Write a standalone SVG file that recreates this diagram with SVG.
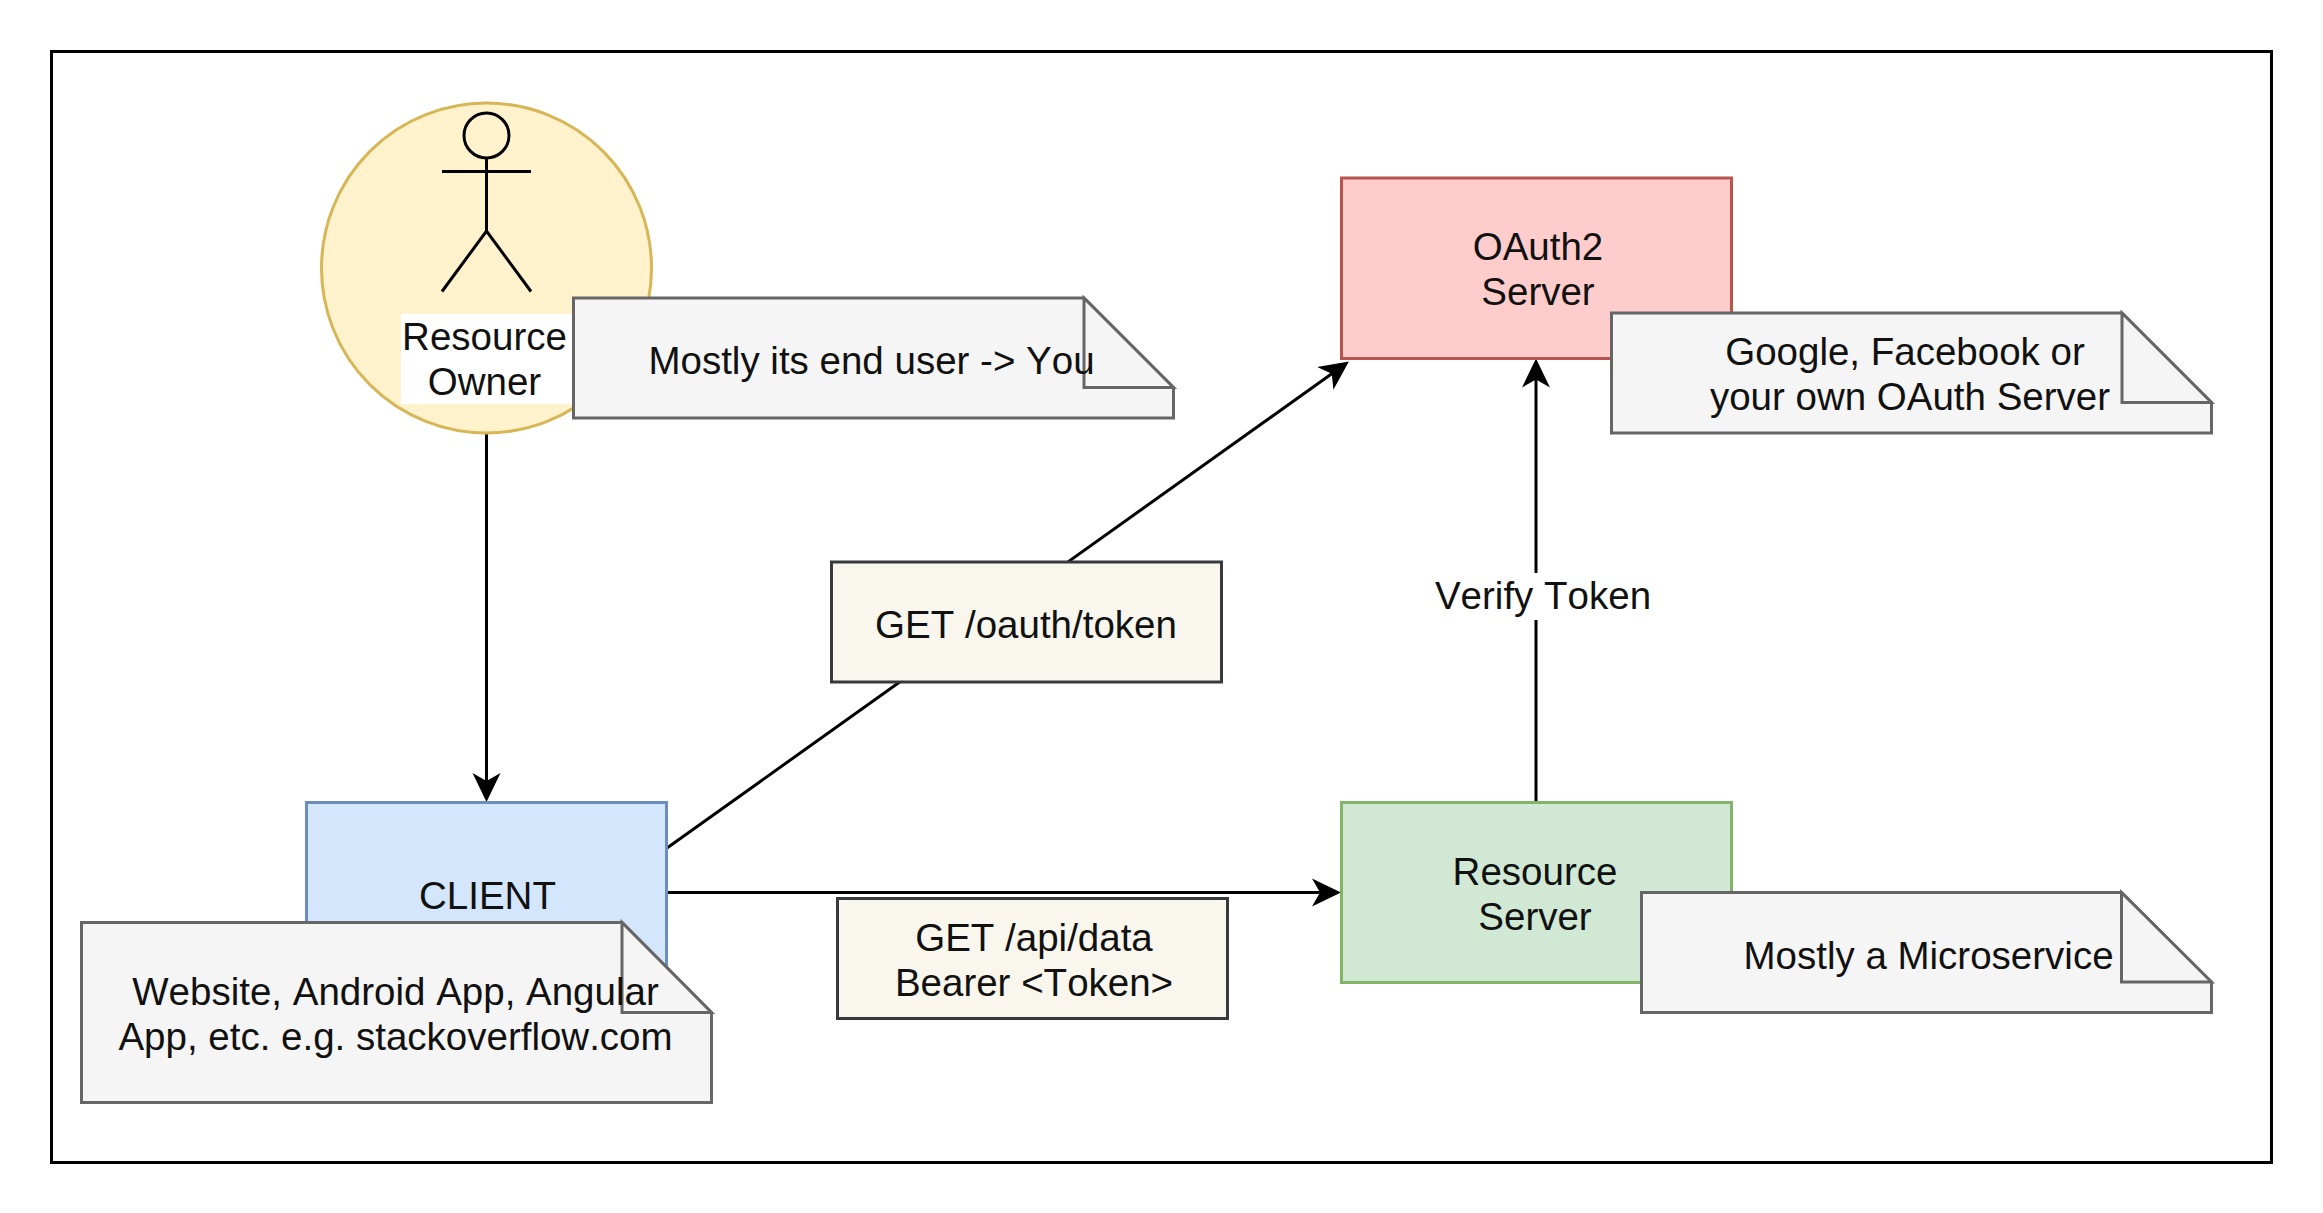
<svg xmlns="http://www.w3.org/2000/svg" width="2323" height="1213" viewBox="0 0 2323 1213">
<style>
text{font-family:"Liberation Sans",Arial,Helvetica,sans-serif;font-size:38.500px;font-kerning:none;fill:#111;text-anchor:middle}
.note{fill:#f5f5f5;stroke:#666;stroke-width:3;stroke-linejoin:miter}
.box{fill:#f9f7ed;stroke:#36393d;stroke-width:3}
.conn{fill:none;stroke:#000;stroke-width:3}
</style>
<defs>
<marker id="arrow" markerUnits="userSpaceOnUse" markerWidth="29" markerHeight="29" viewBox="0 0 29 29" refX="23" refY="14.500" orient="auto">
<path d="M0 0.500 L29 14.500 L0 28.500 L8 14.500 Z" fill="#000"/>
</marker>
</defs>
<rect width="2323" height="1213" fill="#fff"/>
<g id="frame"><rect x="51.500" y="51.500" width="2220" height="1111" fill="#fff" stroke="#000" stroke-width="3"/></g>
<g id="connectors">
<path class="conn" d="M486.500 433V796" marker-end="url(#arrow)"/>
<path class="conn" d="M667 848L1344 365" marker-end="url(#arrow)"/>
<path class="conn" d="M667 892.500H1335" marker-end="url(#arrow)"/>
<path class="conn" d="M1536 802.500V364.500" marker-end="url(#arrow)"/>
</g>
<g id="owner">
<circle cx="486.500" cy="268" r="165" fill="#fff2cc" stroke="#d6b656" stroke-width="3"/>
<circle cx="486.500" cy="135.500" r="22.500" fill="none" stroke="#000" stroke-width="3"/>
<path d="M486.500 158V231M442 171.500H531M442 291.500L486.500 231L531 291.500" fill="none" stroke="#000" stroke-width="3"/>
<rect x="401" y="314" width="172" height="90" fill="#fff"/>
<text x="484.500" y="350">Resource</text>
<text x="484.500" y="395">Owner</text>
</g>
<g id="owner-note">
<path class="note" d="M573.500 298H1084L1173.500 387.500V418H573.500Z"/>
<path class="note" d="M1084 298V387.500H1173.500Z"/>
<text x="871.500" y="374">Mostly its end user -&gt; You</text>
</g>
<g id="oauth">
<rect x="1341.500" y="178" width="390" height="180.500" fill="#ffcccc" stroke="#b85450" stroke-width="3"/>
<text x="1538" y="260">OAuth2</text>
<text x="1538" y="305">Server</text>
</g>
<g id="oauth-note">
<path class="note" d="M1611.500 313H2122L2211.500 402.500V433H1611.500Z"/>
<path class="note" d="M2122 313V402.500H2211.500Z"/>
<text x="1905" y="365">Google, Facebook or</text>
<text x="1910" y="410">your own OAuth Server</text>
</g>
<g id="verify-label">
<rect x="1437" y="573" width="212" height="47" fill="#fff"/>
<text x="1543" y="608.500">Verify Token</text>
</g>
<g id="token-request">
<rect class="box" x="831.500" y="562" width="390" height="120"/>
<text x="1026" y="638">GET /oauth/token</text>
</g>
<g id="client">
<rect x="306.500" y="802.500" width="360" height="180" fill="#d4e6fc" stroke="#6c8ebf" stroke-width="3"/>
<text x="487.500" y="908.500">CLIENT</text>
</g>
<g id="client-note">
<path class="note" d="M81.500 922.500H622L711.500 1012.500V1102.500H81.500Z"/>
<path class="note" d="M622 922.500V1012.500H711.500Z"/>
<text x="395.500" y="1005">Website, Android App, Angular</text>
<text x="395.500" y="1050">App, etc. e.g. stackoverflow.com</text>
</g>
<g id="data-request">
<rect class="box" x="837.500" y="898.500" width="390" height="120"/>
<text x="1034" y="951">GET /api/data</text>
<text x="1034" y="996">Bearer &lt;Token&gt;</text>
</g>
<g id="resource-server">
<rect x="1341.500" y="802.500" width="390" height="180" fill="#d0e8d4" stroke="#82b366" stroke-width="3"/>
<text x="1535" y="884.500">Resource</text>
<text x="1535" y="929.500">Server</text>
</g>
<g id="resource-note">
<path class="note" d="M1641.500 892.500H2121.500L2211.500 982V1012.500H1641.500Z"/>
<path class="note" d="M2121.500 892.500V982H2211.500Z"/>
<text x="1928.500" y="968.500">Mostly a Microservice</text>
</g>
</svg>
